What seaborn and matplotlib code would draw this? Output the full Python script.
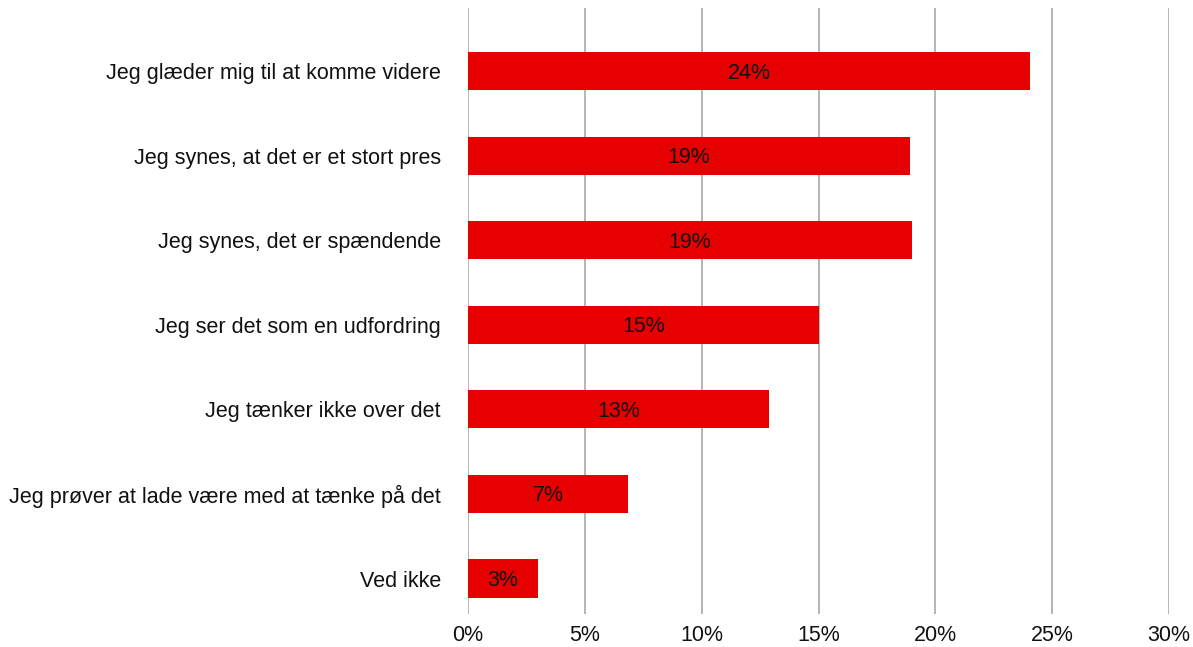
import matplotlib
matplotlib.use("Agg")
import matplotlib.pyplot as plt
from matplotlib.ticker import FuncFormatter, MultipleLocator
import seaborn as sns
import pandas as pd

categories = [
    "Jeg glæder mig til at komme videre",
    "Jeg synes, at det er et stort pres",
    "Jeg synes, det er spændende",
    "Jeg ser det som en udfordring",
    "Jeg tænker ikke over det",
    "Jeg prøver at lade være med at tænke på det",
    "Ved ikke",
]
values = [24.05, 18.9, 19.0, 15.0, 12.9, 6.85, 3.0]
value_labels = ["24%", "19%", "19%", "15%", "13%", "7%", "3%"]

df = pd.DataFrame({"kategori": categories, "andel": values})

sns.set_theme(style="white")
plt.rcParams["font.family"] = ["Liberation Sans", "DejaVu Sans"]

fig = plt.figure(figsize=(11.93, 6.47), dpi=100)
ax = fig.add_axes([468 / 1193, 33 / 647, (1169 - 468) / 1193, (614 - 8) / 647])

sns.barplot(data=df, x="andel", y="kategori", orient="h", color="#E60000",
            saturation=1, width=0.45, linewidth=0, ax=ax, zorder=3)

ax.set_xlim(0, 30)
ax.set_ylim(6.42, -0.75)
ax.xaxis.set_major_locator(MultipleLocator(5))
ax.xaxis.set_major_formatter(FuncFormatter(lambda v, p: f"{v:.0f}%"))
ax.grid(axis="x", color="#A9A9A9", linewidth=1.2, zorder=0)
ax.grid(axis="y", visible=False)
for s in ax.spines.values():
    s.set_visible(False)
ax.set_xlabel("")
ax.set_ylabel("")
ax.tick_params(axis="x", length=0, pad=8, labelsize=15.5, colors="#111111")
ax.tick_params(axis="y", length=0, pad=19.5, labelsize=15.5, colors="#111111")

for i, (v, lab) in enumerate(zip(values, value_labels)):
    ax.text(v / 2, i + 0.02, lab, ha="center", va="center", fontsize=15.5,
            color="#111111", zorder=4)

fig.savefig("out.png", dpi=100)
